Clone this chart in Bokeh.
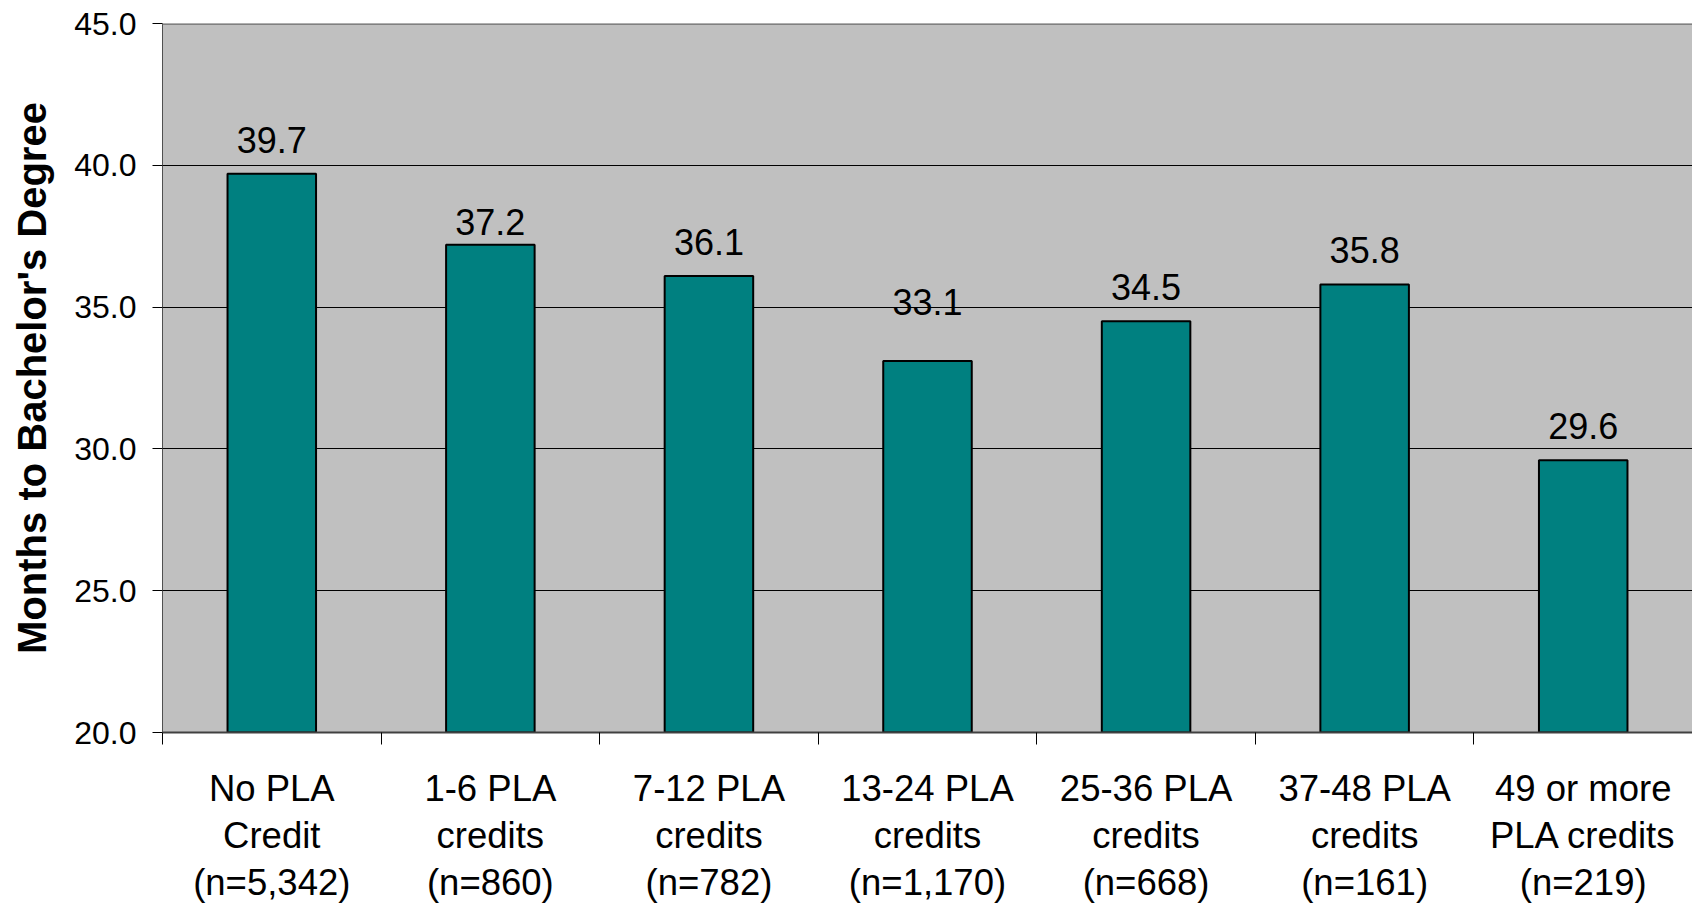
from bokeh.plotting import figure
from bokeh.models import ColumnDataSource, FixedTicker, NumeralTickFormatter, Span
from bokeh.core.properties import value
from bokeh.embed import file_html
from bokeh.resources import INLINE

# ---- data ----
categories = ["No PLA\nCredit", "1-6 PLA\ncredits", "7-12 PLA\ncredits", "13-24 PLA\ncredits",
              "25-36 PLA\ncredits", "37-48 PLA\ncredits", "49 or more\nPLA credits"]
n_counts = [5342, 860, 782, 1170, 668, 161, 219]
months = [39.7, 37.2, 36.1, 33.1, 34.5, 35.8, 29.6]
y_ticks = [20, 25, 30, 35, 40, 45]

# ---- layout / style ----
label_lift_px = [34, 23, 34, 59, 34, 34, 34]
FONT = "Liberation Sans"

xs = [i + 0.5 for i in range(len(months))]
src = ColumnDataSource(dict(
    x=xs,
    top=months,
    lab=[f"{v:.1f}" for v in months],
    yoff=[-d for d in label_lift_px],
))

p = figure(width=1692, height=905, output_backend="svg", toolbar_location=None,
           x_range=(0, len(months)), y_range=(20, 45),
           min_border_left=162, min_border_top=23, min_border_bottom=168, min_border_right=0)
p.background_fill_color = "#C0C0C0"
p.border_fill_color = "white"
p.outline_line_color = None

p.vbar(x="x", top="top", bottom=20, width=0.405, source=src,
       fill_color="#008080", line_color="black", line_width=2)

p.text(x="x", y="top", text="lab", source=src, y_offset="yoff",
       text_align="center", text_baseline="alphabetic",
       text_font=value(FONT), text_font_size="36px", text_color="black")

# x axis: labels at category centres, tick marks at boundaries
xa = p.xaxis[0]
xa.ticker = FixedTicker(ticks=xs, minor_ticks=list(range(len(months) + 1)))
xa.major_label_overrides = {x: f"{c}\n(n={n:,})" for x, c, n in zip(xs, categories, n_counts)}
xa.major_tick_out = 0
xa.major_tick_in = 0
xa.minor_tick_out = 12
xa.minor_tick_in = 0
xa.minor_tick_line_color = "black"
xa.minor_tick_line_width = 1
xa.axis_line_color = "#404040"
xa.axis_line_width = 2
xa.major_label_standoff = 23
xa.major_label_text_font = FONT
xa.major_label_text_font_size = "36.5px"
xa.major_label_text_color = "black"
xa.major_label_text_line_height = 1.15
xa.major_label_orientation = "horizontal"

ya = p.yaxis[0]
ya.ticker = FixedTicker(ticks=y_ticks)
ya.formatter = NumeralTickFormatter(format="0.0")
ya.minor_tick_line_color = None
ya.major_tick_out = 10
ya.major_tick_in = 0
ya.major_tick_line_color = "black"
ya.axis_line_color = "#505050"
ya.axis_line_width = 1
ya.major_label_standoff = 16
ya.major_label_text_font = FONT
ya.major_label_text_font_size = "32px"
ya.major_label_text_color = "black"
ya.axis_label = "Months to Bachelor's Degree"
ya.axis_label_text_font = FONT
ya.axis_label_text_font_size = "40px"
ya.axis_label_text_font_style = "bold"
ya.axis_label_text_color = "black"
ya.axis_label_standoff = 17

p.xgrid.grid_line_color = None
p.ygrid.ticker = FixedTicker(ticks=[25, 30, 35, 40])
p.ygrid.grid_line_color = "black"
p.ygrid.grid_line_width = 1

p.add_layout(Span(location=45, dimension="width", line_color="#808080", line_width=3))

open("out.html", "w").write(file_html(p, INLINE))
